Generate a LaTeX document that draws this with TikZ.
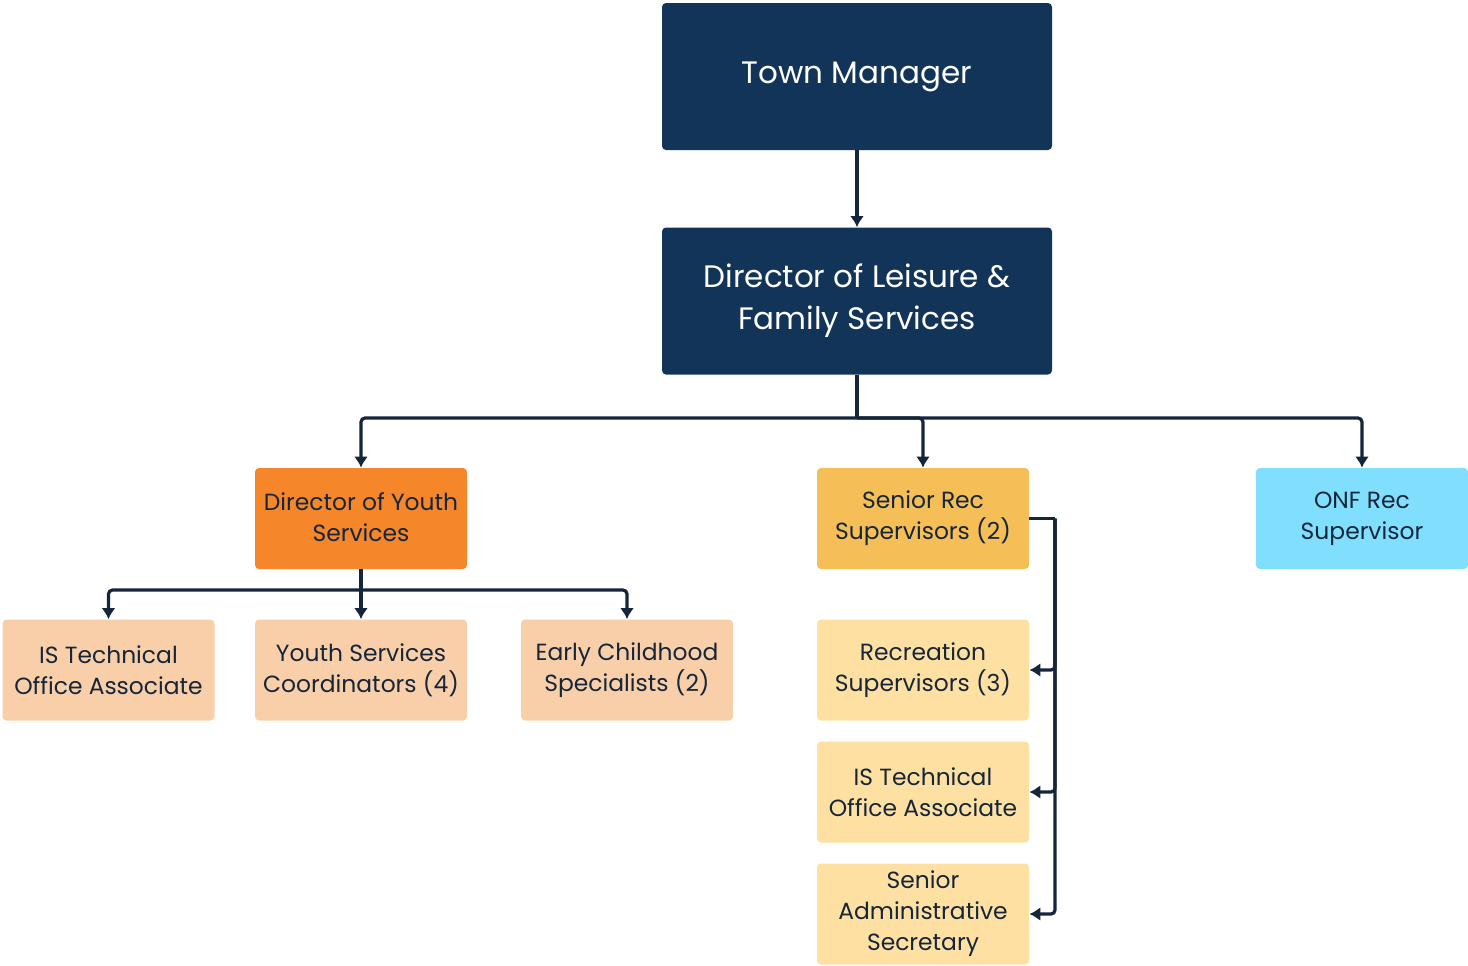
\documentclass[tikz,border=0pt]{standalone}
\usepackage{fontspec}
\setmainfont{Poppins}
\usetikzlibrary{arrows.meta}
\definecolor{navy}{HTML}{133459}
\definecolor{orng}{HTML}{F5862A}
\definecolor{gold}{HTML}{F6BE56}
\definecolor{peach}{HTML}{F9CFA9}
\definecolor{lyel}{HTML}{FEE0A2}
\definecolor{cyan}{HTML}{80DFFD}
\definecolor{ink}{HTML}{15253A}
\begin{document}
\begin{tikzpicture}[x=0.5pt,y=-0.5pt,
  box/.style={rounded corners=2pt,inner sep=0pt,align=center,text=ink,font=\fontsize{11.7}{15.5}\selectfont,minimum width=106pt,minimum height=50.5pt},
  bigbox/.style={box,fill=navy,text=white,font=\fontsize{15.5}{21}\selectfont,minimum width=195pt,minimum height=73.5pt},
  conn/.style={draw=ink,line width=1.6pt,rounded corners=2pt},
  arr/.style={conn,-{Latex[length=5.5pt,width=7pt]}}]
\useasboundingbox (0,0) rectangle (1468,965);
\node[bigbox] (tm) at (857,76.5) {Town Manager};
\node[bigbox] (dl) at (857,301) {Director of Leisure \&\\Family Services};
\node[box,fill=orng] (dy) at (361,518.5) {\raisebox{1pt}{Director of Youth}\\\raisebox{1pt}{Services}};
\node[box,fill=gold] (sr) at (923,518.5) {Senior Rec\\Supervisors (2)};
\node[box,fill=cyan] (onf) at (1362,518.5) {ONF Rec\\Supervisor};
\node[box,fill=peach] (is1) at (108.5,670) {IS Technical\\Office Associate};
\node[box,fill=peach] (yc) at (361,670) {Youth Services\\Coordinators (4)};
\node[box,fill=peach] (ec) at (627,670) {Early Childhood\\Specialists (2)};
\node[box,fill=lyel] (rs) at (923,670) {Recreation\\Supervisors (3)};
\node[box,fill=lyel] (is2) at (923,792) {IS Technical\\Office Associate};
\node[box,fill=lyel] (sa) at (923,914) {Senior\\Administrative\\Secretary};
\coordinate (j1) at (857,418);
\coordinate (j2) at (361,590);
\coordinate (j3) at (1055,518.5);
\draw[arr] (tm.south) -- (dl.north);
\draw[conn] (dl.south) -- (j1);
\draw[arr] (j1) -| (dy.north);
\draw[arr] (j1) -| (onf.north);
\draw[arr] (j1) -| (sr.north);
\draw[conn] (dy.south) -- (j2);
\draw[arr] (j2) -| (is1.north);
\draw[arr] (j2) -- (yc.north);
\draw[arr] (j2) -| (ec.north);
\draw[conn] (sr.east) -- (j3);
\draw[arr] (j3) |- (rs.east);
\draw[arr] (j3) |- (is2.east);
\draw[arr] (j3) |- (sa.east);
\end{tikzpicture}
\end{document}
